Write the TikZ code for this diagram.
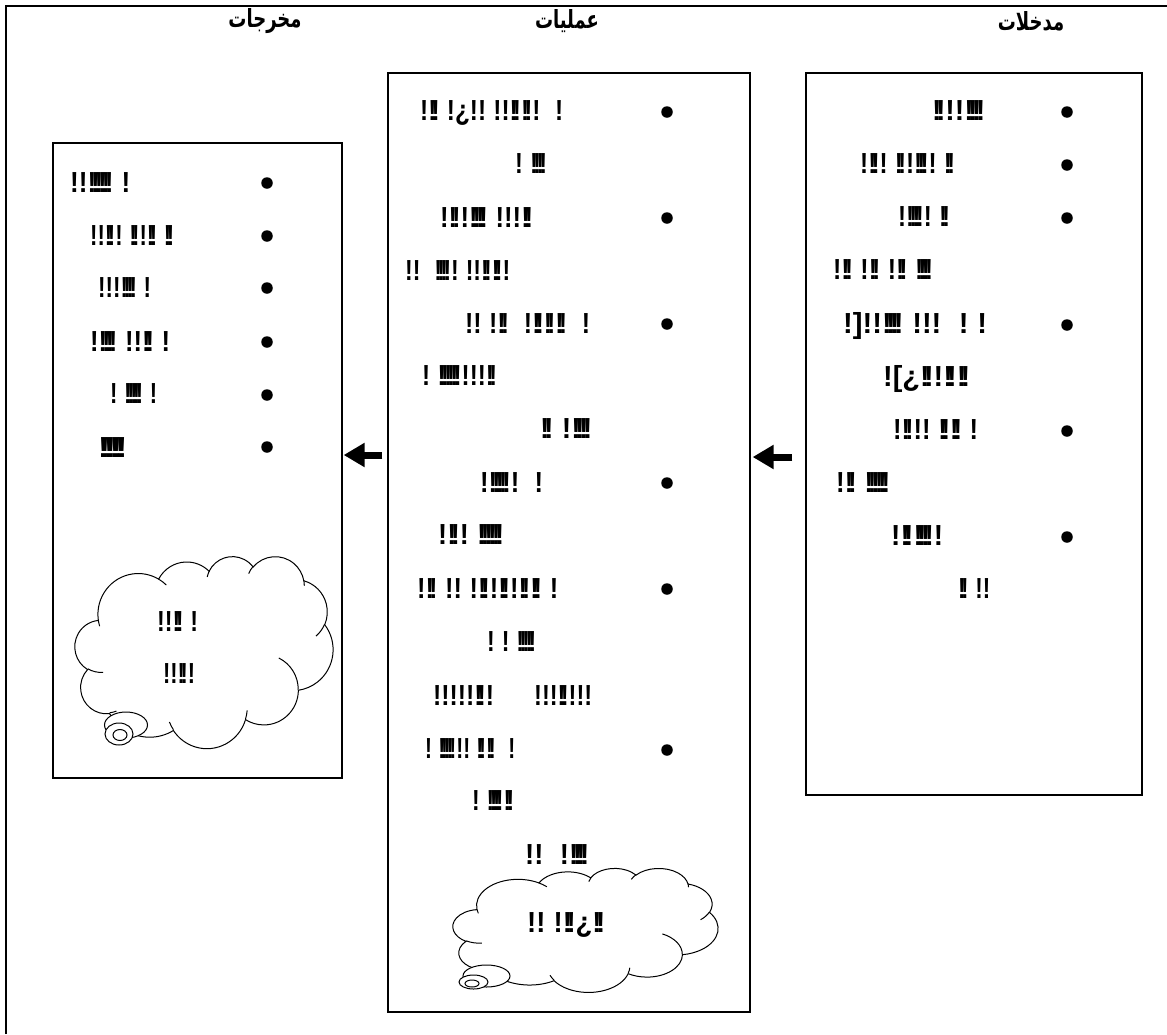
\documentclass[tikz,border=0pt]{standalone}
\usepackage{fontspec}
\usepackage{graphicx}
\usetikzlibrary{arrows.meta,calc}
\TeXXeTstate=1
\setmainfont{Liberation Sans}
\newfontfamily\arabicfont[Script=Arabic]{DejaVu Sans}
\newfontfamily\bangfont{Liberation Sans}
% ! = bang, . = tight bang, _ = gap
\def\bangchar#1{\ifx!#1!\else\ifx.#1!\kern-0.2em\else\ifx_#1\kern0.3em\else#1\fi\fi\fi}
\def\bangloop#1{\ifx\relax#1\else\bangchar#1\expandafter\bangloop\fi}
\newcommand\bangs[1]{\bangloop#1\relax}
\newcommand\gl[4]{\node[txt] (#1) at (#2) {\resizebox{#3pt}{\height}{\bangs{#4}}};}
\newcommand\cloudat[4]{%
\begin{scope}[shift={(#1,#2)},x=#3pt,y=-#4pt]
 \draw[cl,fill=white] (39.00,143.70)
  arc[start angle=-187.75,end angle=-59.64,x radius=67.53,y radius=91.90]
  arc[start angle=-152.02,end angle=-45.45,x radius=53.33,y radius=72.67]
  arc[start angle=-153.49,end angle=-37.32,x radius=43.65,y radius=59.45]
  arc[start angle=-139.70,end angle=-10.21,x radius=48.57,y radius=65.95]
  arc[start angle=-74.77,end angle=23.21,x radius=53.33,y radius=72.73]
  arc[start angle=-37.54,end angle=81.87,x radius=67.75,y radius=92.20]
  arc[start angle=0.46,end angle=121.98,x radius=57.85,y radius=78.67]
  arc[start angle=16.85,end angle=146.23,x radius=67.52,y radius=92.15]
  arc[start angle=58.98,end angle=150.20,x radius=77.20,y radius=105.43]
  arc[start angle=83.31,end angle=223.11,x radius=43.60,y radius=59.18]
  arc[start angle=120.36,end angle=264.11,x radius=43.45,y radius=59.45]
  -- cycle;
 \draw[cl]
  (46.93,261.77) arc[start angle=85.54,end angle=120.36,x radius=43.45,y radius=59.45]
  (69.28,348.99) arc[start angle=68.23,end angle=83.31,x radius=43.60,y radius=59.18]
  (164.78,390.90) arc[start angle=146.23,end angle=158.48,x radius=67.52,y radius=92.15]
  (288.27,347.51) arc[start angle=4.74,end angle=16.85,x radius=67.52,y radius=92.15]
  (341.29,229.54) arc[start angle=-64.03,end angle=0.46,x radius=57.85,y radius=78.67]
  (417.98,153.54) arc[start angle=23.21,end angle=49.64,x radius=53.33,y radius=72.73]
  (383.24,54.26) arc[start angle=-10.21,end angle=0.82,x radius=48.57,y radius=65.95]
  (290.78,39.52) arc[start angle=-156.29,end angle=-139.70,x radius=48.57,y radius=65.95]
  (221.41,47.20) arc[start angle=-167.73,end angle=-153.49,x radius=43.65,y radius=59.45]
  (140.00,51.92) arc[start angle=-59.64,end angle=-45.74,x radius=67.53,y radius=91.90]
  (41.27,157.89) arc[start angle=163.20,end angle=172.25,x radius=67.53,y radius=91.90];
\end{scope}}
\newcommand\ttltext[1]{\scalebox{0.72}[1]{\beginR #1\endR}}
\begin{document}
\begin{tikzpicture}[x=1pt,y=-1pt,
  box/.style={draw,line width=1.3pt,inner sep=0},
  bul/.style={circle,fill,inner sep=0,minimum size=11.5pt},
  txt/.style={anchor=base west,inner sep=0,font=\bangfont\bfseries\fontsize{29}{30}\selectfont},
  ttl/.style={inner sep=0,font=\arabicfont\bfseries\fontsize{25}{30}\selectfont},
  cl/.style={line width=1pt},
  blk/.style={line width=7pt,-{Triangle[length=21pt,width=23pt]}}]
\useasboundingbox (0,0) rectangle (1167,1034);
\draw[line width=1.5pt] (6,1034) -- (6,6) -- (1167,6);

% titles
\node[ttl] (t1) at (1031,21) {\ttltext{مدخلات}};
\node[ttl] (t2) at (567,21) {\ttltext{عمليات}};
\node[ttl] (t3) at (265,21) {\ttltext{مخرجات}};

% boxes
\node[box,minimum width=336pt,minimum height=722pt] (rbox) at (974,434) {};
\node[box,minimum width=362pt,minimum height=939pt] (mbox) at (569,542.5) {};
\node[box,minimum width=289pt,minimum height=635pt] (lbox) at (197.5,460.5) {};

% arrows
\coordinate (ay1) at (0,455);
\coordinate (ay2) at (0,457);
\draw[blk] ($(mbox.west|-ay1)+(-5,0)$) -- ($(lbox.east|-ay1)+(1,0)$);
\draw[blk] ($(rbox.west|-ay2)+(-13,0)$) -- ($(mbox.east|-ay2)+(2,0)$);

% right box
\foreach \y [count=\i] in {112,165,218,325,431,537} \node[bul] (rb\i) at (1067,\y) {};
\gl{r1}{932,120}{53}{.!!!...!}
\gl{r2}{860,173}{95}{!.!!_.!!..!!_.!}
\gl{r3}{898,226}{52}{!...!!_.!}
\gl{r4}{833,279}{100}{!.!_!.!_!.!_...!}
\gl{r5}{843,333}{144}{!]!!...!_!!!__!_!}
\gl{r6}{883,386}{87}{![¿.!!.!.!}
\gl{r7}{893,439}{85}{!.!!!_.!.!_!}
\gl{r8}{836,492}{54}{!.!_.....!}
\gl{r9}{891,545}{52}{!.!...!!}
\gl{r10}{958,598}{32}{.!_!!}

% middle box
\foreach \y [count=\i] in {112,218,324,483,589,750} \node[bul] (mb\i) at (667,\y) {};
\gl{m1}{420,120}{143}{!.!_!¿!!_!!.!.!!__!}
\gl{m2}{515,173}{32}{!_...!}
\gl{m3}{440,227}{93}{!.!!...!_!!!.!}
\gl{m4}{405,280}{105}{!!__...!!_!!.!.!!}
\gl{m5}{465,333}{125}{!!_!.!__!.!.!.!__!}
\gl{m6}{422,385}{75}{!_.....!!!!.!}
\gl{m7}{540,438}{52}{.!_!...!}
\gl{m8}{480,492}{63}{!....!!__!}
\gl{m9}{438,544}{66}{!.!!_.....!}
\gl{m10}{417,598}{141}{!.!_!!_!.!!.!!.!.!_!}
\gl{m11}{487,651}{49}{!_!_....!}
\gl{m12}{433,705}{61}{!!!!!.!!}
\gl{m12b}{534,705}{58}{!!!.!!!!}
\gl{m13}{425,758}{90}{!_....!!!_.!.!__!}
\gl{m14}{472,810}{42}{!_...!.!}
\gl{m15}{525,864}{64}{!!__!...!}
\cloudat{453}{868}{0.6134}{0.2870}
\draw[cl,fill=white] (486.5,976) ellipse[x radius=23.5,y radius=11];
\draw[cl,fill=white] (473.5,982) ellipse[x radius=14.5,y radius=7];
\draw[cl] (472,983.5) ellipse[x radius=7,y radius=3.5];
\gl{mc}{527,932}{78}{!!_!.!¿.!}

% left box
\foreach \y [count=\i] in {183,236,288,342,395,447} \node[bul] (lb\i) at (267,\y) {};
\gl{l1}{70,192}{60}{!!.....!_!}
\gl{l2}{90,245}{84}{!!.!!_.!!.!_.!}
\gl{l3}{98,297}{53}{!!!...!_!}
\gl{l4}{90,351}{80}{!...!_!!.!_!}
\gl{l5}{110,403}{47}{!_....!_!}
\gl{l6}{97,457}{31}{...!}
\cloudat{75}{556}{0.5972}{0.4444}
\draw[cl,fill=white] (126,725) ellipse[x radius=21.5,y radius=13];
\draw[cl,fill=white] (119,734) ellipse[x radius=14,y radius=11];
\draw[cl] (120,735) ellipse[x radius=7,y radius=5.5];
\gl{lc1}{157,631}{41}{!!.!_!}
\gl{lc2}{163,683}{32}{!!.!!}
\end{tikzpicture}
\end{document}
